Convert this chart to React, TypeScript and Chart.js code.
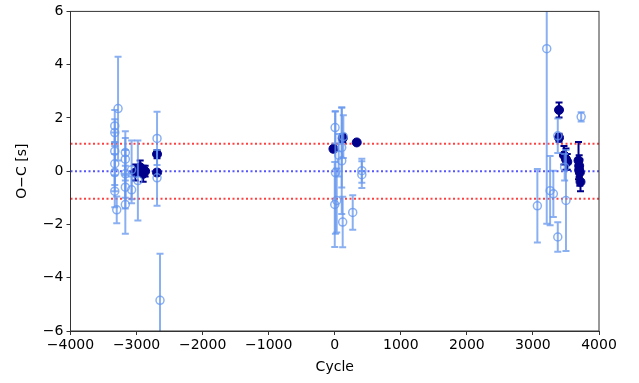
import React, { useEffect, useRef } from "react";
import { Chart, registerables } from "chart.js";

Chart.register(...registerables);

// Light series (hollow circles)
const lightCycle = [
  -3330, -3330, -3330, -3330, -3330, -3330, -3300, -3280,
  -3170, -3170, -3170, -3170, -3170, -3075, -3075, -2980,
  -2690, -2690, -2645,
  0, 5, 10, 30, 60, 106, 106, 120, 130, 272, 410, 410,
  3067, 3209, 3260, 3309, 3376, 3376, 3480, 3500, 3730,
];
const lightOC = [
  1.7, 1.45, 0.75, 0.28, -0.05, -0.75, -1.45, 2.35,
  0.7, 0.45, -0.1, -0.6, -1.25, 0.05, -0.7, -0.35,
  1.23, -0.25, -4.85,
  -1.25, 1.64, -0.05, -1.1, 0.6, 0.39, 0.89, -1.91, 1.3, -1.55, 0.02, -0.13,
  -1.3, 4.6, -0.73, -0.85, -2.47, 1.33, 0.15, -1.1, 2.04,
];
const lightErr = [
  0.6, 0.5, 0.7, 0.8, 0.7, 0.6, 0.5, 1.95,
  0.8, 0.8, 0.9, 0.8, 1.1, 1.1, 0.5, 1.5,
  1.0, 1.05, 1.75,
  1.6, 0.6, 2.3, 1.2, 0.8, 2.0, 1.5, 0.95, 0.8, 0.65, 0.45, 0.5,
  1.38, 6.57, 1.3, 0.87, 0.55, 0.65, 0.5, 1.9, 0.17,
];

// Dark series (filled circles)
const darkCycle = [
  -3020, -2945, -2900, -2870, -2690, -2690,
  -20, 121, 333,
  3395, 3395, 3470, 3500, 3520, 3690, 3700, 3710, 3720, 3700,
];
const darkOC = [
  -0.05, 0.15, -0.1, 0.0, 0.64, -0.05,
  0.84, 1.24, 1.08,
  2.3, 1.26, 0.6, 0.45, 0.35, 0.4, 0.2, -0.05, -0.4, 0.05,
];
const darkErr = [
  0.3, 0.25, 0.3, 0.2, 0.15, 0.1,
  0.1, 0.15, 0.05,
  0.28, 0.15, 0.35, 0.4, 0.3, 0.7, 0.4, 0.5, 0.35, 0.3,
];

const refLines = [0, 1.03, -1.03];
const refColors = ["rgba(30,30,255,0.75)", "rgba(255,0,0,0.75)", "rgba(255,0,0,0.75)"];

const xTicks = [-4000, -3000, -2000, -1000, 0, 1000, 2000, 3000, 4000];
const yTicks = [-6, -4, -2, 0, 2, 4, 6];

const LIGHT = "rgba(100,149,237,0.75)";
const DARK = "#00008b";
const FONT = "'DejaVu Sans', sans-serif";

const fmt = (v: number) => String(v).replace("-", "\u2212");

export default function App() {
  const ref = useRef<HTMLCanvasElement | null>(null);
  useEffect(() => {
    document.body.style.margin = "0";
    const errs = [lightErr, darkErr];
    const errColors = [LIGHT, DARK];
    const errorBars = {
      id: "errorBars",
      beforeDatasetDraw(chart: any, args: any) {
        const i = args.index;
        const ctx = chart.ctx;
        const xs = chart.scales.x;
        const ys = chart.scales.y;
        const ds = chart.data.datasets[i];
        const ca = chart.chartArea;
        ctx.save();
        ctx.beginPath();
        ctx.rect(ca.left, ca.top, ca.right - ca.left, ca.bottom - ca.top);
        ctx.clip();
        ctx.strokeStyle = errColors[i];
        ctx.lineWidth = 2;
        ds.data.forEach((p: any, j: number) => {
          const e = errs[i][j];
          const px = xs.getPixelForValue(p.x);
          const y1 = ys.getPixelForValue(p.y + e);
          const y2 = ys.getPixelForValue(p.y - e);
          ctx.beginPath();
          ctx.moveTo(px, y1);
          ctx.lineTo(px, y2);
          ctx.moveTo(px - 3.5, y1);
          ctx.lineTo(px + 3.5, y1);
          ctx.moveTo(px - 3.5, y2);
          ctx.lineTo(px + 3.5, y2);
          ctx.stroke();
        });
        ctx.restore();
      },
    };
    const hlines = {
      id: "hlines",
      beforeDatasetsDraw(chart: any) {
        const ctx = chart.ctx;
        const ys = chart.scales.y;
        const ca = chart.chartArea;
        ctx.save();
        ctx.lineWidth = 2;
        ctx.setLineDash([2, 2.5]);
        refLines.forEach((v, k) => {
          const py = ys.getPixelForValue(v);
          ctx.strokeStyle = refColors[k];
          ctx.beginPath();
          ctx.moveTo(ca.left, py);
          ctx.lineTo(ca.right, py);
          ctx.stroke();
        });
        ctx.restore();
      },
    };
    const frame = {
      id: "frame",
      afterDraw(chart: any) {
        const ctx = chart.ctx;
        const ca = chart.chartArea;
        ctx.save();
        ctx.strokeStyle = "#333";
        ctx.lineWidth = 1;
        ctx.strokeRect(ca.left, ca.top, ca.right - ca.left, ca.bottom - ca.top);
        ctx.restore();
      },
    };
    const chart = new Chart(ref.current as HTMLCanvasElement, {
      type: "scatter",
      data: {
        datasets: [
          {
            label: "light",
            data: lightCycle.map((x, i) => ({ x, y: lightOC[i] })),
            pointStyle: "circle",
            pointRadius: 4,
            borderColor: LIGHT,
            backgroundColor: "rgba(0,0,0,0)",
            borderWidth: 1.5,
          },
          {
            label: "dark",
            data: darkCycle.map((x, i) => ({ x, y: darkOC[i] })),
            pointStyle: "circle",
            pointRadius: 4.5,
            borderColor: DARK,
            backgroundColor: DARK,
            borderWidth: 1,
          },
        ],
      },
      options: {
        animation: false,
        responsive: false,
        devicePixelRatio: 1,
        layout: { padding: { left: 0, right: 40, top: 9, bottom: 0 } },
        plugins: { legend: { display: false }, tooltip: { enabled: false } },
        scales: {
          x: {
            type: "linear",
            min: -4000,
            max: 4000,
            afterFit: (s: any) => { s.height = 52; },
            afterBuildTicks: (s: any) => { s.ticks = xTicks.map((v) => ({ value: v })); },
            grid: { display: true, drawOnChartArea: false, color: "#333", tickLength: 4 },
            border: { display: true, color: "#333" },
            ticks: {
              color: "#000",
              font: { family: FONT, size: 14 },
              padding: 2,
              maxRotation: 0,
              autoSkip: false,
              callback: (v: any) => fmt(v),
            },
            title: {
              display: true,
              text: "Cycle",
              color: "#000",
              font: { family: FONT, size: 14 },
              padding: { top: 2, bottom: 7 },
            },
          },
          y: {
            type: "linear",
            min: -6,
            max: 6,
            afterFit: (s: any) => { s.width = 70.5; },
            afterBuildTicks: (s: any) => { s.ticks = yTicks.map((v) => ({ value: v })); },
            grid: { display: true, drawOnChartArea: false, color: "#333", tickLength: 4 },
            border: { display: true, color: "#333" },
            ticks: {
              color: "#000",
              font: { family: FONT, size: 14 },
              padding: 3,
              autoSkip: false,
              callback: (v: any) => fmt(v),
            },
            title: {
              display: true,
              text: "O\u2212C [s]",
              color: "#000",
              font: { family: FONT, size: 14 },
              padding: { top: 14, bottom: 0 },
            },
          },
        },
      },
      plugins: [errorBars, hlines, frame],
    } as any);
    return () => chart.destroy();
  }, []);
  return (
    <div style={{ width: 639, height: 383, background: "#fff" }}>
      <canvas ref={ref} width={639} height={383} />
    </div>
  );
}
